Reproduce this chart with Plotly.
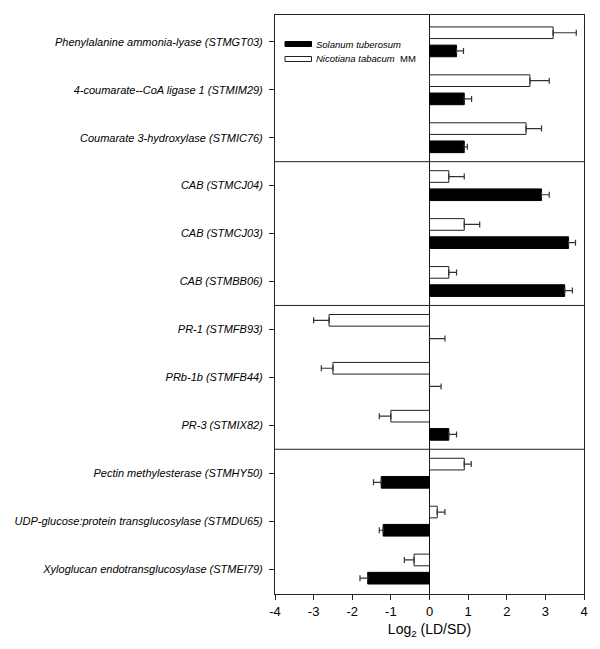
import plotly.graph_objects as go

categories = [
    "Phenylalanine ammonia-lyase (STMGT03)",
    "4-coumarate--CoA ligase 1 (STMIM29)",
    "Coumarate 3-hydroxylase (STMIC76)",
    "CAB (STMCJ04)",
    "CAB (STMCJ03)",
    "CAB (STMBB06)",
    "PR-1 (STMFB93)",
    "PRb-1b (STMFB44)",
    "PR-3 (STMIX82)",
    "Pectin methylesterase (STMHY50)",
    "UDP-glucose:protein transglucosylase (STMDU65)",
    "Xyloglucan endotransglucosylase (STMEI79)",
]

nicotiana = [3.2, 2.6, 2.5, 0.5, 0.9, 0.5, -2.6, -2.5, -1.0, 0.9, 0.2, -0.4]
nicotiana_err = [0.6, 0.5, 0.4, 0.4, 0.4, 0.2, 0.4, 0.3, 0.3, 0.18, 0.2, 0.25]

solanum = [0.7, 0.9, 0.9, 2.9, 3.6, 3.5, 0.0, 0.0, 0.5, -1.25, -1.2, -1.6]
solanum_err = [0.18, 0.19, 0.08, 0.2, 0.18, 0.2, 0.4, 0.3, 0.2, 0.2, 0.1, 0.2]

x_ticks = [-4, -3, -2, -1, 0, 1, 2, 3, 4]
x_ticktext = ["-4", "-3", "-2", "-1", "0", "1", "2", "3", "4"]

legend_names = ["<i>Solanum tuberosum</i>", "<i>Nicotiana tabacum</i>  MM"]
group_boundaries = [2.5, 5.5, 8.5]


def one_sided(vals, errs):
    plus = [e if v >= 0 else 0 for v, e in zip(vals, errs)]
    minus = [e if v < 0 else 0 for v, e in zip(vals, errs)]
    return plus, minus


n_plus, n_minus = one_sided(nicotiana, nicotiana_err)
s_plus, s_minus = one_sided(solanum, solanum_err)

fig = go.Figure()
fig.add_trace(go.Bar(
    y=categories, x=nicotiana, orientation="h", name="Nicotiana tabacum MM",
    marker=dict(color="white", line=dict(color="#222", width=1)),
    error_x=dict(type="data", symmetric=False, array=n_plus, arrayminus=n_minus,
                 color="#333", thickness=1.2, width=3),
    showlegend=False,
))
fig.add_trace(go.Bar(
    y=categories, x=solanum, orientation="h", name="Solanum tuberosum",
    marker=dict(color="black", line=dict(color="black", width=1)),
    error_x=dict(type="data", symmetric=False, array=s_plus, arrayminus=s_minus,
                 color="#333", thickness=1.2, width=3),
    showlegend=False,
))

for b in group_boundaries:
    fig.add_shape(type="line", xref="paper", x0=0, x1=1, yref="y", y0=b, y1=b,
                  line=dict(color="#222", width=1))

# page body has an 8px margin; plot area in page pixels
OFF = 8
L = 275.0
W = 309.0
T = 15.0
H = 579.0


def px(xp):
    return (xp - L) / W


def py(yp):
    return 1 - (yp - T) / H


fig.add_shape(type="rect", xref="paper", yref="paper",
              x0=px(285), x1=px(311.5), y0=py(46.5), y1=py(41.5),
              fillcolor="black", line=dict(color="black", width=1))
fig.add_shape(type="rect", xref="paper", yref="paper",
              x0=px(285), x1=px(311.5), y0=py(61.5), y1=py(56.5),
              fillcolor="white", line=dict(color="#222", width=1))
fig.add_annotation(xref="paper", yref="paper", x=px(314), y=py(44), text=legend_names[0],
                   showarrow=False, xanchor="left", yanchor="middle",
                   font=dict(size=9.5, color="black"))
fig.add_annotation(xref="paper", yref="paper", x=px(314), y=py(59), text=legend_names[1],
                   showarrow=False, xanchor="left", yanchor="middle",
                   font=dict(size=9.5, color="black"))

fig_w, fig_h = 600 - 2 * OFF, 649 - 2 * OFF
ml = int(L - OFF)
mt = int(T - OFF)
mr = int(fig_w - ml - W)
mb = int(fig_h - mt - H)

fig.update_layout(
    width=fig_w, height=fig_h,
    margin=dict(l=ml, r=mr, t=mt, b=mb, autoexpand=False),
    paper_bgcolor="white", plot_bgcolor="white",
    barmode="group", bargap=0.24, bargroupgap=0.36,
    font=dict(family="Liberation Sans, Arial, sans-serif", color="black"),
    xaxis=dict(range=[-4, 4], tickvals=x_ticks, ticktext=x_ticktext,
               ticks="outside", ticklen=5, tickcolor="#222", tickfont=dict(size=13),
               showgrid=False, zeroline=True, zerolinecolor="#111", zerolinewidth=1,
               showline=True, linecolor="#222", linewidth=1, mirror=True,
               title=dict(text="Log<sub>2</sub> (LD/SD)", font=dict(size=14), standoff=6)),
    yaxis=dict(type="category", categoryorder="array", categoryarray=categories,
               range=[11.52, -0.56], ticks="outside", ticklen=5, tickcolor="#222",
               ticklabelstandoff=4,
               tickfont=dict(size=11, style="italic"),
               showgrid=False, showline=True, linecolor="#222", linewidth=1, mirror=True),
)

fig.write_html("out.html")
